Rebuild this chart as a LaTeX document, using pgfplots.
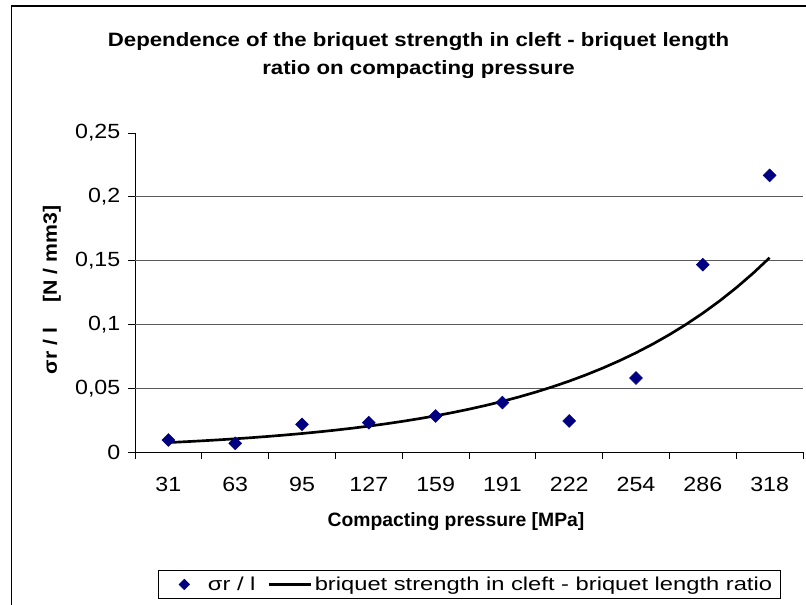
\documentclass[border=0pt]{standalone}
\usepackage{fontspec}
\setmainfont{Liberation Sans}
\newfontfamily\titlefont[FakeStretch=1.15]{Liberation Sans}
\newfontfamily\ylabfont[FakeStretch=1.1]{Liberation Sans}
\newfontfamily\tickfont[FakeStretch=1.13]{Liberation Sans}
\newfontfamily\legfont[FakeStretch=1.27]{Liberation Sans}
\usepackage{pgfplots}
\pgfplotsset{compat=1.18}
\definecolor{navy}{RGB}{0,0,128}
\begin{document}
\begin{tikzpicture}
\useasboundingbox (0,0) rectangle (604.5pt,453pt);
\draw[line width=1.2pt] (8.6pt,-10pt) rectangle (620pt,448.5pt);
\begin{axis}[
  at={(101.25pt,114pt)}, anchor=south west,
  width=501pt, height=239.25pt, scale only axis,
  xmin=-0.5, xmax=9.5, ymin=0, ymax=0.25,
  axis x line*=bottom, axis y line*=left,
  axis line style={black, line width=0.6pt},
  tick align=outside,
  xtick={0,...,9},
  xticklabels={31,63,95,127,159,191,222,254,286,318},
  major x tick style={draw=none},
  minor xtick={-0.5,0.5,1.5,2.5,3.5,4.5,5.5,6.5,7.5,8.5,9.5},
  minor x tick style={black, line width=0.6pt},
  minor tick length=5.25pt,
  major tick length=5pt,
  ytick={0,0.05,0.1,0.15,0.2,0.25},
  yticklabels={0,{0,05},{0,1},{0,15},{0,2},{0,25}},
  y tick style={black, line width=0.6pt},
  extra y ticks={0.05,0.1,0.15,0.2},
  extra y tick labels={},
  extra y tick style={grid=major, major tick length=0pt},
  grid style={black!65, line width=0.6pt},
  tick label style={font=\tickfont\fontsize{15.4}{18}\selectfont},
  xticklabel style={yshift=-10pt},
  yticklabel style={xshift=-2.5pt},
  legend style={at={(0.5,-0.415)}, anchor=center, legend columns=2,
    draw=black, line width=0.6pt, inner xsep=4pt, inner ysep=3pt,
    font=\legfont\fontsize{14}{17}\selectfont,
    /tikz/every even column/.append style={column sep=7pt}},
]
\addplot[only marks, mark=square*, mark size=3.4pt, mark options={rotate=45, fill=navy, draw=navy},
  legend image code/.code={\path[draw=none] (0pt,0pt) -- (31.5pt,0pt);
    \fill[navy] (15.75pt,3.8pt) -- (19.55pt,0pt) -- (15.75pt,-3.8pt) -- (11.95pt,0pt) -- cycle;}]
coordinates {(0,0.0094) (1,0.0068) (2,0.0217) (3,0.0230) (4,0.0282) (5,0.0387) (6,0.0243) (7,0.0580) (8,0.1468) (9,0.2168)};
\addlegendentry{σr / l}
\addplot[black, line width=2pt, mark=none, legend image code/.code={\draw[black, line width=2pt] (0pt,0pt) -- (31.5pt,0pt);}]
coordinates {(0,0.00740) (0.25,0.00805) (0.5,0.00875) (0.75,0.00952) (1,0.01035) (1.25,0.01126) (1.5,0.01225) (1.75,0.01332) (2,0.01449) (2.25,0.01576) (2.5,0.01714) (2.75,0.01864) (3,0.02028) (3.25,0.02205) (3.5,0.02399) (3.75,0.02609) (4,0.02837) (4.25,0.03086) (4.5,0.03356) (4.75,0.03650) (5,0.03971) (5.25,0.04318) (5.5,0.04697) (5.75,0.05108) (6,0.05556) (6.25,0.06043) (6.5,0.06573) (6.75,0.07148) (7,0.07775) (7.25,0.08456) (7.5,0.09197) (7.75,0.10003) (8,0.10880) (8.25,0.11833) (8.5,0.12870) (8.75,0.13998) (9,0.15224)};
\addlegendentry{briquet strength in cleft - briquet length ratio}
\end{axis}
\node[align=center, font=\titlefont\bfseries\fontsize{14.5}{21}\selectfont] at (313.9pt,411pt) {Dependence of the briquet strength in cleft - briquet length\\ratio on compacting pressure};
\node[font=\bfseries\fontsize{14.5}{17}\selectfont] at (342pt,61.5pt) {Compacting pressure [MPa]};
\node[font=\ylabfont\bfseries\fontsize{14.5}{18}\selectfont, rotate=90] at (39pt,235.5pt) {σr / l\hspace{1.3em}[N / mm3]};
\end{tikzpicture}
\end{document}
